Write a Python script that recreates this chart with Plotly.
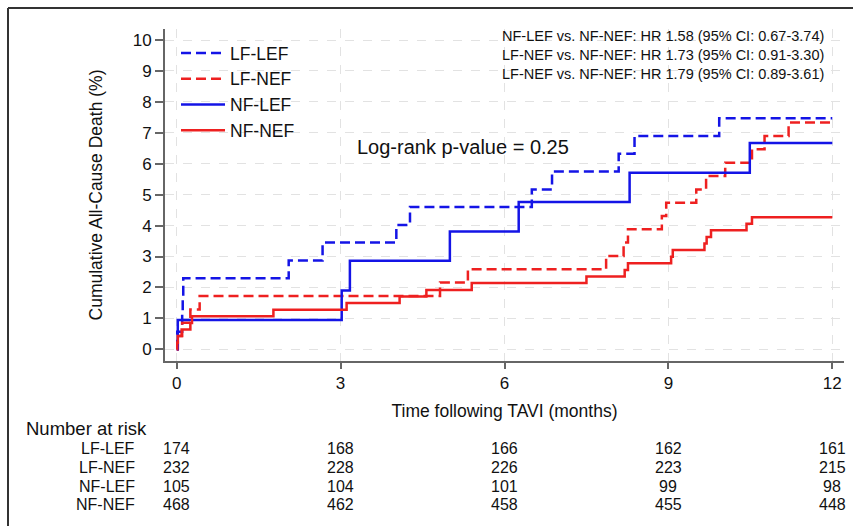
import plotly.graph_objects as go

# ---------------- data ----------------
lf_lef_t = [0, 0.01, 0.10, 0.11, 0.12, 2.05, 2.67, 4.02, 4.27, 6.50, 6.87, 8.09, 8.38, 9.93, 12]
lf_lef_v = [0, 0.57, 1.15, 1.72, 2.30, 2.87, 3.45, 4.02, 4.60, 5.17, 5.75, 6.32, 6.90, 7.47, 7.47]

lf_nef_t = [0, 0.02, 0.10, 0.25, 0.42, 4.82, 5.33, 7.86, 8.18, 8.26, 8.88, 8.96, 9.51, 9.69,
            10.04, 10.53, 10.76, 11.20, 12]
lf_nef_v = [0, 0.43, 0.86, 1.29, 1.72, 2.16, 2.59, 3.02, 3.45, 3.88, 4.31, 4.74, 5.17, 5.60,
            6.03, 6.47, 6.90, 7.33, 7.33]

nf_lef_t = [0, 0.02, 3.02, 3.17, 5.00, 6.26, 8.29, 10.49, 12]
nf_lef_v = [0, 0.95, 1.90, 2.86, 3.81, 4.76, 5.71, 6.67, 6.67]

nf_nef_t = [0, 0.01, 0.02, 0.09, 0.25, 0.28, 1.77, 3.11, 4.08, 4.57, 5.40, 7.50, 8.20, 8.26,
            9.05, 9.08, 9.66, 9.70, 9.78, 10.43, 10.53, 12]
nf_nef_v = [0, 0.21, 0.43, 0.64, 0.85, 1.07, 1.28, 1.50, 1.71, 1.92, 2.14, 2.35, 2.56, 2.78,
            2.99, 3.21, 3.42, 3.63, 3.85, 4.06, 4.27, 4.27]

x_ticks = [0, 3, 6, 9, 12]
y_ticks = [0, 1, 2, 3, 4, 5, 6, 7, 8, 9, 10]

risk_groups = ["LF-LEF", "LF-NEF", "NF-LEF", "NF-NEF"]
risk_lf_lef = [174, 168, 166, 162, 161]
risk_lf_nef = [232, 228, 226, 223, 215]
risk_nf_lef = [105, 104, 101, 99, 98]
risk_nf_nef = [468, 462, 458, 455, 448]

hr_lines = [
    "NF-LEF vs. NF-NEF: HR 1.58 (95% CI: 0.67-3.74)",
    "LF-NEF vs. NF-NEF: HR 1.73 (95% CI: 0.91-3.30)",
    "LF-NEF vs. NF-NEF: HR 1.79 (95% CI: 0.89-3.61)",
]
logrank_text = "Log-rank p-value = 0.25"

# ---------------- styling ----------------
BLUE = "#1414e6"
RED = "#ee2020"
FONT = "Liberation Sans, Arial, Helvetica, sans-serif"
DASH = "10px,5px"

fig = go.Figure()
series = [
    ("LF-LEF", lf_lef_t, lf_lef_v, BLUE, DASH),
    ("LF-NEF", lf_nef_t, lf_nef_v, RED, DASH),
    ("NF-LEF", nf_lef_t, nf_lef_v, BLUE, "solid"),
    ("NF-NEF", nf_nef_t, nf_nef_v, RED, "solid"),
]
for name, t, v, col, dash in series:
    fig.add_trace(go.Scatter(
        x=t, y=v, name=name, mode="lines",
        line=dict(color=col, width=2.5, dash=dash, shape="hv"),
    ))

W, H = 853, 526
ML, MR, MT, MB = 165, 9, 29, 165
pw = W - ML - MR
ph = H - MT - MB

def px_x(p):
    return (p - ML) / pw

def px_y(p):
    return (H - MB - p) / ph

annotations = []
# HR lines
for i, line in enumerate(hr_lines):
    annotations.append(dict(
        x=px_x(663), y=px_y(36 + 19 * i), xref="paper", yref="paper",
        text=line, showarrow=False, xanchor="center", yanchor="middle",
        font=dict(family=FONT, size=14.5, color="#111111"),
    ))
# log-rank
annotations.append(dict(
    x=px_x(355), y=px_y(147), xref="paper", yref="paper",
    text=logrank_text, showarrow=False, xanchor="left", yanchor="middle",
    font=dict(family=FONT, size=20, color="#111111"),
))
# number at risk table
annotations.append(dict(
    x=px_x(24), y=px_y(428), xref="paper", yref="paper",
    text="Number at risk", showarrow=False, xanchor="left", yanchor="middle",
    font=dict(family=FONT, size=18.5, color="#111111"),
))
risk_rows = [risk_lf_lef, risk_lf_nef, risk_nf_lef, risk_nf_nef]
row_py = [448, 467, 486, 504]
for g, row, py in zip(risk_groups, risk_rows, row_py):
    annotations.append(dict(
        x=px_x(137), y=px_y(py), xref="paper", yref="paper",
        text=g, showarrow=False, xanchor="right", yanchor="middle",
        font=dict(family=FONT, size=16, color="#111111"),
    ))
    for t, n in zip(x_ticks, row):
        annotations.append(dict(
            x=t, y=px_y(py), xref="x", yref="paper",
            text=str(n), showarrow=False, xanchor="center", yanchor="middle",
            font=dict(family=FONT, size=16, color="#111111"),
        ))

# outer frame (left and top edges)
shapes = [
    dict(type="line", xref="paper", yref="paper",
         x0=px_x(8), y0=px_y(530), x1=px_x(8), y1=px_y(8),
         line=dict(color="#333333", width=2)),
    dict(type="line", xref="paper", yref="paper",
         x0=px_x(8), y0=px_y(8), x1=px_x(856), y1=px_y(8),
         line=dict(color="#333333", width=2)),
]

x0_range = -(176.7 - ML) / 54.6
x1_range = 12 + (ML + pw - 832.3) / 54.6
y_scale = 30.93
y0_range = -(H - MB - 349.3) / y_scale
y1_range = 10 + (40 - MT) / y_scale

fig.update_layout(
    width=W, height=H,
    margin=dict(l=ML, r=MR, t=MT, b=MB, autoexpand=False),
    paper_bgcolor="white", plot_bgcolor="white",
    font=dict(family=FONT, color="#111111"),
    showlegend=True,
    legend=dict(
        x=px_x(176), y=px_y(35), xanchor="left", yanchor="top",
        bgcolor="rgba(0,0,0,0)", font=dict(family=FONT, size=17.5, color="#111111"),
        itemwidth=44, tracegroupgap=0,
    ),
    annotations=annotations,
    shapes=shapes,
    xaxis=dict(
        range=[x0_range, x1_range], tickvals=x_ticks, ticktext=[str(t) for t in x_ticks],
        showline=True, linecolor="#666666", linewidth=2,
        ticks="outside", ticklen=6, tickwidth=1.5, tickcolor="#666666",
        showgrid=True, gridcolor="#e2e2e2", griddash="dash", gridwidth=1,
        zeroline=False,
        tickfont=dict(family=FONT, size=17, color="#111111"),
        title=dict(text="Time following TAVI (months)", standoff=12,
                   font=dict(family=FONT, size=17.5, color="#111111")),
    ),
    yaxis=dict(
        range=[y0_range, y1_range], tickvals=y_ticks,
        showline=True, linecolor="#666666", linewidth=2,
        ticks="outside", ticklen=8, tickwidth=1.5, tickcolor="#666666",
        showgrid=True, gridcolor="#e2e2e2", griddash="dash", gridwidth=1,
        zeroline=False,
        tickfont=dict(family=FONT, size=17, color="#111111"),
        title=dict(text="Cumulative All-Cause Death (%)", standoff=26,
                   font=dict(family=FONT, size=17.5, color="#111111")),
    ),
)

fig.write_html("out.html", config={"displayModeBar": False})

# remove the default page margin so the figure sits at the window origin
with open("out.html", "r", encoding="utf-8") as f:
    html = f.read()
html = html.replace("<head>", "<head><style>html,body{margin:0;padding:0;overflow:hidden;}</style>", 1)
with open("out.html", "w", encoding="utf-8") as f:
    f.write(html)
